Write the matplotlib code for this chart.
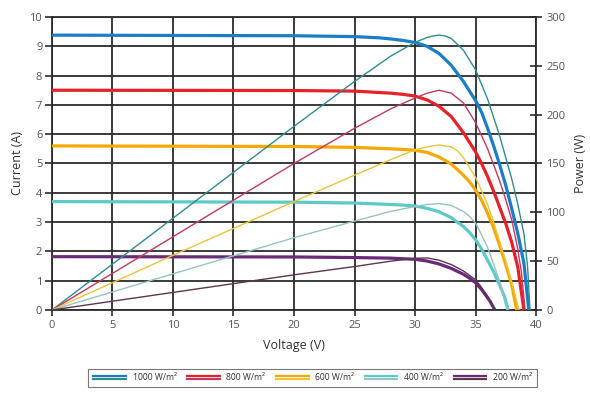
import matplotlib
matplotlib.use("Agg")
import matplotlib.pyplot as plt
from matplotlib.lines import Line2D
from matplotlib.legend_handler import HandlerBase

plt.rcParams['font.family'] = ['Open Sans', 'DejaVu Sans']

# Irradiance levels
labels = ["1000 W/m²", "800 W/m²", "600 W/m²", "400 W/m²", "200 W/m²"]

# I-V curves: voltage (V) and current (A)
v_1000 = [0, 10, 20, 25, 27, 28, 29, 30, 31, 32, 33, 34, 35, 35.5, 36, 36.5, 37, 37.5, 38, 38.5, 39, 39.4]
i_1000 = [9.38, 9.37, 9.36, 9.33, 9.29, 9.25, 9.2, 9.13, 9.0, 8.75, 8.35, 7.8, 7.15, 6.75, 6.2, 5.6, 4.95, 4.25, 3.45, 2.6, 1.6, 0]

v_800 = [0, 20, 25, 28, 29, 30, 31, 32, 33, 34, 35, 35.5, 36, 36.5, 37, 37.5, 38, 38.5, 39.0]
i_800 = [7.5, 7.49, 7.47, 7.4, 7.36, 7.3, 7.17, 6.95, 6.6, 6.05, 5.4, 5.0, 4.55, 4.05, 3.5, 2.95, 2.3, 1.45, 0]

v_600 = [0, 20, 25, 28, 29, 30, 31, 32, 33, 34, 34.5, 35, 35.5, 36, 36.5, 37, 37.5, 38, 38.4]
i_600 = [5.6, 5.58, 5.55, 5.5, 5.48, 5.45, 5.38, 5.22, 4.98, 4.6, 4.38, 4.1, 3.75, 3.3, 2.8, 2.2, 1.55, 0.85, 0]

v_400 = [0, 20, 25, 28, 29, 30, 31, 32, 33, 34, 34.5, 35, 35.5, 36, 36.5, 37, 37.4, 37.7]
i_400 = [3.7, 3.68, 3.65, 3.6, 3.58, 3.55, 3.47, 3.35, 3.15, 2.85, 2.65, 2.4, 2.08, 1.7, 1.3, 0.85, 0.45, 0]

v_200 = [0, 20, 25, 28, 29, 30, 31, 32, 33, 34, 34.5, 35, 35.5, 35.8, 36.2, 36.6]
i_200 = [1.82, 1.81, 1.79, 1.77, 1.75, 1.73, 1.67, 1.57, 1.42, 1.22, 1.09, 0.93, 0.7, 0.53, 0.3, 0]

# P-V curves: voltage (V) and power (W)
pv_1000 = [0, 10, 20, 25, 28, 30, 31, 31.5, 32, 32.5, 33, 34, 35, 36, 37, 37.5, 38, 38.5, 39, 39.3, 39.5]
p_1000 = [0, 94, 188, 234, 260, 274, 279, 280.5, 281.5, 280.5, 278, 266, 246, 216, 178, 156, 134, 108, 78, 45, 0]

pv_800 = [0, 10, 20, 25, 28, 30, 31, 32, 33, 34, 35, 36, 37, 37.5, 38, 38.5, 38.8, 39.1]
p_800 = [0, 75, 150, 186, 206, 217, 222, 225, 222, 212, 192, 165, 132, 113, 92, 62, 38, 0]

pv_600 = [0, 10, 20, 25, 28, 30, 31, 32, 33, 33.5, 34, 35, 36, 36.5, 37, 37.5, 38, 38.6]
p_600 = [0, 56, 111, 138, 154, 164, 167, 169, 167, 163, 156, 136, 108, 90, 70, 50, 28, 0]

pv_400 = [0, 10, 20, 25, 28, 30, 31, 32, 33, 34, 34.5, 35, 35.5, 36, 36.5, 37, 37.6]
p_400 = [0, 37, 74, 91, 101, 106, 108, 109, 107, 101, 96, 89, 77, 64, 47, 29, 0]

pv_200 = [0, 10, 20, 25, 28, 30, 31, 32, 33, 34, 35, 35.5, 36, 36.6]
p_200 = [0, 18, 36, 44.5, 50, 53, 53.3, 51, 46.5, 40, 31, 23, 14, 0]

iv_curves = [(v_1000, i_1000), (v_800, i_800), (v_600, i_600), (v_400, i_400), (v_200, i_200)]
pv_curves = [(pv_1000, p_1000), (pv_800, p_800), (pv_600, p_600), (pv_400, p_400), (pv_200, p_200)]

current_colors = ["#1a7dc6", "#e62129", "#f5a900", "#5ccac6", "#6b2a78"]
power_colors = ["#2f8c8e", "#c23a5e", "#ecc53a", "#95c4c4", "#5b3552"]

fig = plt.figure(figsize=(5.9, 3.94), dpi=100)
ax = fig.add_axes([0.0881, 0.2132, 0.8204, 0.7437])
ax2 = ax.twinx()

ax.set_xlim(0, 40)
ax.set_ylim(0, 10)
ax2.set_ylim(0, 300)

grid_color = "#2b2b2b"
ax.set_xticks(range(0, 41, 5))
ax.set_yticks(range(0, 11))
ax.grid(True, color=grid_color, linewidth=1.3)
ax.set_axisbelow(True)
for s in ax.spines.values():
    s.set_color(grid_color)
    s.set_linewidth(1.3)
for s in ax2.spines.values():
    s.set_visible(False)

tick_col = "#555555"
ax.tick_params(axis='x', direction='out', length=4, width=1.2, color=grid_color,
               labelsize=8, labelcolor=tick_col, pad=3)
ax.tick_params(axis='y', direction='out', length=5, width=1.2, color=grid_color,
               labelsize=8, labelcolor=tick_col, pad=2)
ax2.set_yticks(range(0, 301, 50))
ax2.tick_params(axis='y', direction='inout', length=9, width=1.2, color=grid_color,
                labelsize=8, labelcolor=tick_col, pad=3)

for (v, i), c in zip(iv_curves, current_colors):
    ax.plot(v, i, color=c, linewidth=2.3, solid_capstyle='butt',
            solid_joinstyle='round', zorder=3)
for (v, p), c in zip(pv_curves, power_colors):
    ax2.plot(v, p, color=c, linewidth=1.0, solid_joinstyle='round', zorder=4)

ax.set_xlabel("Voltage (V)", fontsize=9, color="#333333", labelpad=6)
ax.set_ylabel("Current (A)", fontsize=9, color="#333333", labelpad=4)
ax2.set_ylabel("Power (W)", fontsize=9, color="#333333", labelpad=6)


class DoubleLineHandler(HandlerBase):
    """Legend key made of two parallel lines: current and power colour."""
    def __init__(self, top_color, bottom_color):
        super().__init__()
        self.top_color = top_color
        self.bottom_color = bottom_color

    def create_artists(self, legend, orig_handle, xdescent, ydescent,
                       width, height, fontsize, trans):
        y_mid = height / 2 - ydescent
        l1 = Line2D([-xdescent, width - xdescent], [y_mid + 1.3, y_mid + 1.3],
                    color=self.top_color, linewidth=1.6, transform=trans)
        l2 = Line2D([-xdescent, width - xdescent], [y_mid - 1.3, y_mid - 1.3],
                    color=self.bottom_color, linewidth=1.6, transform=trans)
        return [l1, l2]


handles = [Line2D([], [], color=c) for c in current_colors]
handler_map = {h: DoubleLineHandler(c, p) for h, c, p in zip(handles, current_colors, power_colors)}
leg = fig.legend(handles, labels, handler_map=handler_map, loc='center',
                 bbox_to_anchor=(0.53, 0.041), ncol=5, fontsize=6.2,
                 frameon=True, fancybox=False, handlelength=3.8, handletextpad=0.8,
                 columnspacing=1.2, borderpad=0.55, labelcolor="#333333")
leg.get_frame().set_edgecolor("#555555")
leg.get_frame().set_linewidth(0.8)

fig.savefig("out.png", dpi=100)
